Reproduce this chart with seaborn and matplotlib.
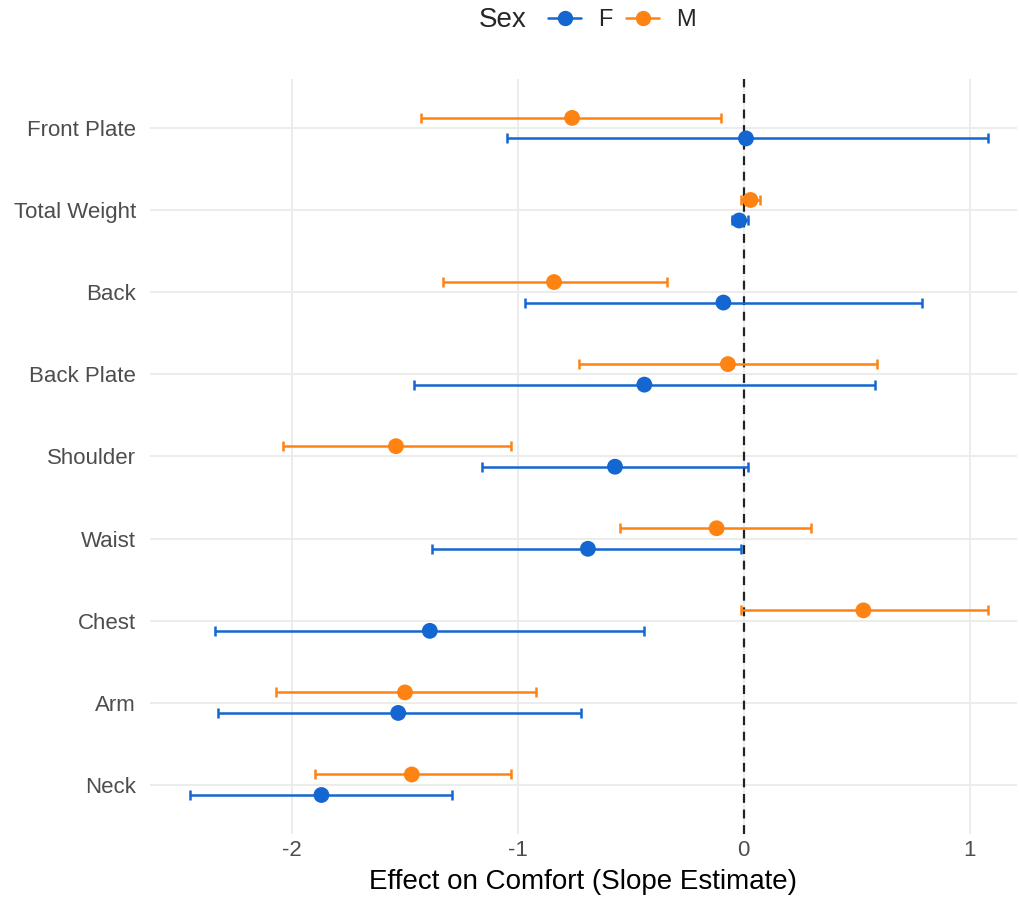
import matplotlib
matplotlib.use("Agg")
import matplotlib.pyplot as plt
from matplotlib.lines import Line2D
import seaborn as sns
import pandas as pd
import numpy as np

categories = ["Front Plate", "Total Weight", "Back", "Back Plate", "Shoulder",
              "Waist", "Chest", "Arm", "Neck"]
f_est = [0.01, -0.02, -0.09, -0.44, -0.57, -0.69, -1.39, -1.53, -1.87]
f_lo  = [-1.05, -0.05, -0.97, -1.46, -1.16, -1.38, -2.34, -2.33, -2.45]
f_hi  = [1.08, 0.02, 0.79, 0.58, 0.02, -0.01, -0.44, -0.72, -1.29]
m_est = [-0.76, 0.03, -0.84, -0.07, -1.54, -0.12, 0.53, -1.50, -1.47]
m_lo  = [-1.43, -0.01, -1.33, -0.73, -2.04, -0.55, -0.01, -2.07, -1.90]
m_hi  = [-0.10, 0.07, -0.34, 0.59, -1.03, 0.30, 1.08, -0.92, -1.03]
sexes = ["F", "M"]
colors = {"F": "#1466d0", "M": "#fe8313"}

rows = []
for i, c in enumerate(categories):
    rows.append(dict(term=c, idx=i, Sex="F", est=f_est[i], lo=f_lo[i], hi=f_hi[i]))
    rows.append(dict(term=c, idx=i, Sex="M", est=m_est[i], lo=m_lo[i], hi=m_hi[i]))
df = pd.DataFrame(rows)
dodge = {"F": 0.125, "M": -0.125}
df["y"] = df["idx"] + df["Sex"].map(dodge)

sns.set_theme(style="whitegrid")
plt.rcParams["font.family"] = ["Liberation Sans", "DejaVu Sans"]

fig = plt.figure(figsize=(10.19, 9.07), dpi=100)
ax = fig.add_axes([0.147, 0.0805, 0.851, 0.8325])

for s in sexes:
    d = df[df["Sex"] == s]
    ax.errorbar(d["est"], d["y"], xerr=[d["est"] - d["lo"], d["hi"] - d["est"]],
                fmt="none", ecolor=colors[s], elinewidth=1.8, capsize=3.5,
                capthick=1.8, zorder=2)
sns.scatterplot(data=df, x="est", y="y", hue="Sex", palette=colors,
                hue_order=sexes, s=130, edgecolor="none", legend=False,
                ax=ax, zorder=3)

ax.axvline(0, color="#222222", linestyle=(0, (4, 3)), linewidth=1.6, zorder=1)

ax.set_xlim(-2.63, 1.21)
ax.set_ylim(len(categories) - 0.4, -0.6)
ax.set_yticks(range(len(categories)))
ax.set_yticklabels(categories)
ax.set_xticks([-2, -1, 0, 1])
ax.set_xticklabels(["-2", "-1", "0", "1"])
ax.grid(True, color="#ebebeb", linewidth=1.3)
for sp in ax.spines.values():
    sp.set_visible(False)
ax.tick_params(axis="both", length=0, labelsize=16, labelcolor="#4d4d4d")
ax.tick_params(axis="y", pad=10)
ax.tick_params(axis="x", pad=4)
ax.set_xlabel("Effect on Comfort (Slope Estimate)", fontsize=20, color="black", labelpad=6)
ax.set_ylabel("")

fig.text(0.470, 0.978, "Sex", fontsize=20, ha="left", va="center")
handles = [Line2D([0], [0], color=colors[s], marker="o", markersize=10, linewidth=1.8)
           for s in sexes]
fig.legend(handles, sexes, loc="center left", bbox_to_anchor=(0.538, 0.978),
           ncol=2, frameon=False, fontsize=17, handlelength=1.4,
           handletextpad=0.7, columnspacing=0.6, borderaxespad=0, borderpad=0)

fig.savefig("out.png", dpi=100)
